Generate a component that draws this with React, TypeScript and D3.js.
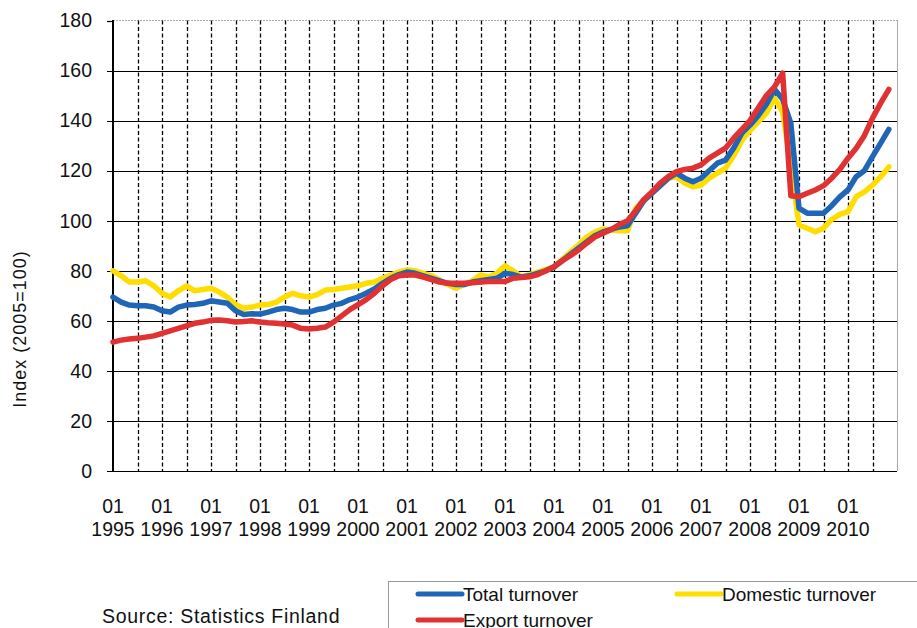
import React from 'react';
import * as d3 from 'd3';

// months since 01/1995, sampled every second month
const months = d3.range(0, 191, 2);
const years = d3.range(1995, 2011);
const yTicks = [0, 20, 40, 60, 80, 100, 120, 140, 160, 180];

const totalTurnover = [
  69.5, 67.5, 66.3, 66, 66, 65.5,
  64, 63.5, 65.5, 66.3, 66.5, 67,
  68, 67.5, 67, 64, 62.5, 62.8,
  62.7, 63.5, 64.5, 65, 64.5, 63.5,
  63.5, 64.5, 65, 66.3, 67, 68.5,
  69.5, 71, 72.7, 75, 77, 78.5,
  79.5, 79, 78, 77, 76, 75,
  74.5, 74.5, 75.5, 76, 76.5, 77,
  79, 78.5, 77.5, 78, 79, 80,
  81.5, 84, 86.5, 89, 91.5, 94,
  95.5, 96.5, 97.5, 98, 103, 108,
  111, 114, 117, 119, 117, 115.6,
  117, 120, 123, 124.2, 129, 135,
  138.2, 142, 146.5, 152.5, 148.5, 139,
  105, 103, 103, 103, 106, 109.5,
  112.3, 117.6, 120, 125.6, 131, 136.5,
];

const domesticTurnover = [
  80, 78, 75.5, 75.5, 76, 74,
  71, 69.5, 72, 74, 72, 72.5,
  73, 71.5, 69.5, 66.5, 65, 65.5,
  66.3, 66.5, 67.5, 69.5, 71, 70,
  69.5, 70.5, 72.3, 72.5, 73, 73.5,
  74, 75, 75.5, 77, 78.3, 79.5,
  80.3, 80, 79, 78, 76.3, 74.5,
  73, 74.5, 76, 78.3, 77.5, 79,
  82, 80, 77.6, 78.5, 79.5, 80.5,
  81.5, 84.5, 87.5, 90.3, 93.5, 95.5,
  96.7, 96.3, 96, 96, 105, 108,
  111.5, 114, 117, 117.6, 115, 113.6,
  114.2, 117, 119, 121, 126, 132,
  136, 139.5, 143, 149, 143.5, 122,
  98.3, 97, 95.6, 97, 100.5, 102.5,
  103.6, 109.6, 111.5, 114.2, 117.6, 121.5,
];

const exportTurnover = [
  51.5, 52.3, 52.7, 53, 53.5, 54,
  55, 56, 57, 58, 59, 59.5,
  60.2, 60.3, 60, 59.5, 59.7, 60,
  59.5, 59.2, 59, 58.7, 58.3, 57,
  56.7, 57, 57.5, 59.5, 62, 64.5,
  66.5, 68.5, 71, 74, 76.5, 78,
  78.3, 78.3, 77.5, 76.5, 75.5, 75,
  75, 75, 75.2, 75.5, 75.7, 75.7,
  75.7, 77, 77.3, 77.6, 78.5, 80,
  81.6, 84, 86, 88.3, 91, 93.5,
  95, 96.5, 98.5, 100, 104, 108.5,
  111.5, 115, 117.6, 119.6, 120.5, 121,
  122.3, 125, 127, 129, 133, 136.5,
  140, 145, 150, 153.5, 159, 110,
  109.6, 111, 112.3, 114, 117, 120.5,
  125, 129, 134, 141, 147, 152.5,
];

const series = [
  { name: 'Domestic turnover', values: domesticTurnover, color: '#ffdd00' },
  { name: 'Total turnover', values: totalTurnover, color: '#1f66b6' },
  { name: 'Export turnover', values: exportTurnover, color: '#e03232' },
];

const W = 917;
const H = 628;
const font = '"Liberation Sans", Arial, sans-serif';

export default function App() {
  const x = d3.scaleLinear().domain([0, 192]).range([113, 897]);
  const y = d3.scaleLinear().domain([0, 180]).range([471, 20.5]);

  const line = d3
    .line<number>()
    .x((_, i) => x(months[i]))
    .y((d) => y(d));

  const halfYears = d3.range(6, 192, 6);

  return (
    <svg
      width={W}
      height={H}
      style={{ position: 'absolute', left: 0, top: 0, background: '#fff' }}
      fontFamily={font}
    >
      {/* horizontal grid */}
      {yTicks.map((t) => (
        <g key={t}>
          <line
            x1={107}
            x2={t === 180 ? 113 : 897}
            y1={Math.round(y(t)) + 0.5}
            y2={Math.round(y(t)) + 0.5}
            stroke="#000"
            strokeWidth={1.2}
          />
          <text x={92} y={y(t)} dy="0.35em" textAnchor="end" fontSize={19.5} fill="#111">
            {t}
          </text>
        </g>
      ))}
      <line x1={113} x2={897} y1={20.5} y2={20.5} stroke="#aaa" strokeWidth={1} strokeDasharray="2,1" />
      <line x1={897.5} x2={897.5} y1={20} y2={471} stroke="#aaa" strokeWidth={1} />

      {/* vertical dashed grid */}
      {halfYears.map((m) => (
        <line
          key={m}
          x1={Math.round(x(m)) + 0.5}
          x2={Math.round(x(m)) + 0.5}
          y1={20.5}
          y2={471}
          stroke="#000"
          strokeWidth={1.3}
          strokeDasharray="4,2.5"
        />
      ))}

      {/* y axis */}
      <line x1={113} x2={113} y1={20} y2={472} stroke="#000" strokeWidth={2} />

      {/* x labels */}
      {years.map((yr) => (
        <g key={yr} fontSize={19.5} fill="#111" textAnchor="middle">
          <text x={x((yr - 1995) * 12)} y={513}>
            01
          </text>
          <text x={x((yr - 1995) * 12)} y={536}>
            {yr}
          </text>
        </g>
      ))}

      {/* y title */}
      <text
        transform="translate(26,329) rotate(-90)"
        textAnchor="middle"
        fontSize={18}
        letterSpacing={1}
        fill="#111"
      >
        Index (2005=100)
      </text>

      {/* series */}
      {series.map((s) => (
        <path
          key={s.name}
          d={line(s.values) || ''}
          fill="none"
          stroke={s.color}
          strokeWidth={5.5}
          strokeLinejoin="round"
          strokeLinecap="round"
        />
      ))}

      {/* source */}
      <text x={102} y={623} fontSize={19.5} letterSpacing={0.7} fill="#111">
        Source: Statistics Finland
      </text>

      {/* legend */}
      <rect x={388.5} y={581.5} width={560} height={60} fill="#fff" stroke="#999" strokeWidth={1} />
      {[
        { s: series[1], lx: 418, ly: 594 },
        { s: series[0], lx: 677, ly: 594 },
        { s: series[2], lx: 418, ly: 620 },
      ].map(({ s, lx, ly }) => (
        <g key={s.name}>
          <line x1={lx} x2={lx + 44} y1={ly} y2={ly} stroke={s.color} strokeWidth={5} strokeLinecap="round" />
          <text x={lx + 45} y={ly} dy="0.35em" fontSize={19} fill="#111">
            {s.name}
          </text>
        </g>
      ))}
    </svg>
  );
}
